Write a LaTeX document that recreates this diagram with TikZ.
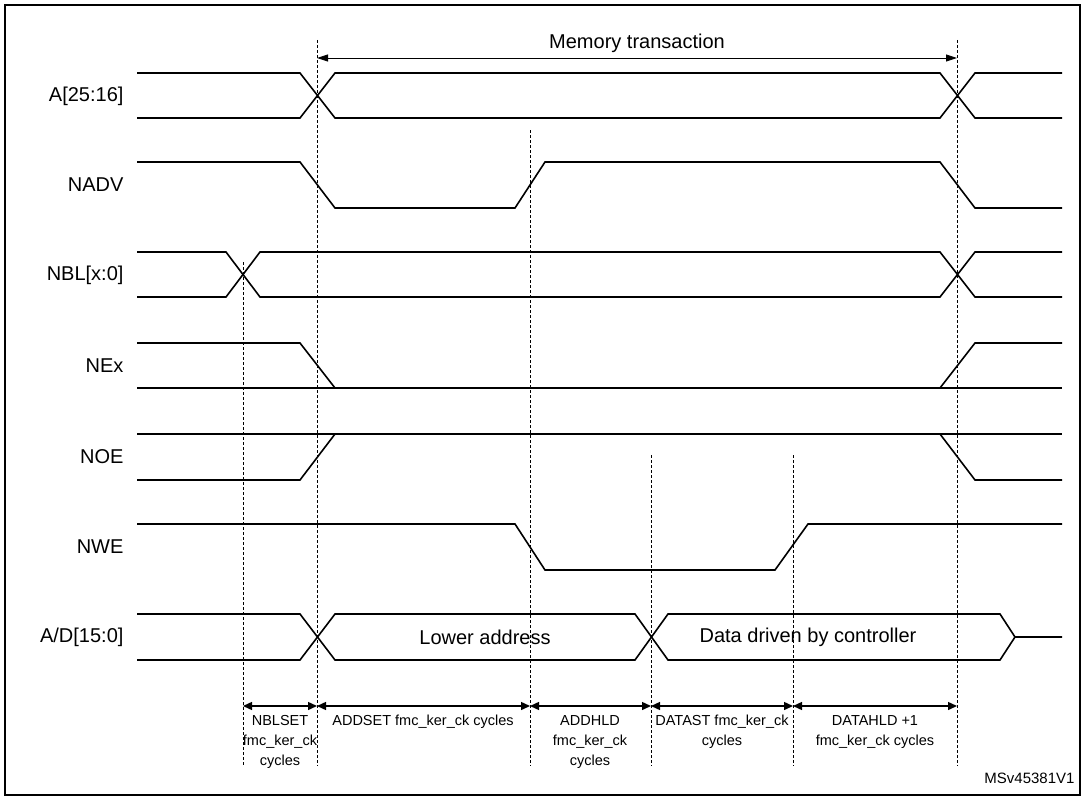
\documentclass[tikz,border=0pt]{standalone}
\usepackage{fontspec}
\setmainfont{Liberation Sans}
\usetikzlibrary{arrows.meta}
\tikzset{
  wave/.style={line width=1.6pt},
  guide/.style={densely dashed,line width=0.7pt},
  span/.style={{Triangle[length=9pt,width=8pt]}-{Triangle[length=9pt,width=8pt]},line width=1.4pt},
  sig/.style={anchor=east,font=\fontsize{20}{22}\selectfont},
  cyc/.style={anchor=north,align=center,inner sep=1pt,font=\fontsize{14.5}{20}\selectfont}
}
\begin{document}
\begin{tikzpicture}[x=1pt,y=-1pt]
    \useasboundingbox (0,0) rectangle (1085,800);
    \draw [line width=1.4pt] (5,5) rectangle (1080,795);
    % timing guides
    \foreach \gx/\gy in {243/262,317/40,530/130,651/455,793/455,957/40} {
    \draw [guide] (\gx,\gy) -- (\gx,766);
    }
    \coordinate (t0) at (243,706);
    \coordinate (t1) at (317,706);
    \coordinate (t2) at (530,706);
    \coordinate (t3) at (651,706);
    \coordinate (t4) at (793,706);
    \coordinate (t5) at (957,706);
    \coordinate (m0) at (317,58);
    \coordinate (m1) at (957,58);
    \draw [{Triangle[length=11pt,width=7pt]}-{Triangle[length=11pt,width=7pt]},line width=0.9pt] (m0) -- (m1) node (mt) [midway,above=2pt,font=\fontsize{20}{22}\selectfont] {Memory transaction};
    % signal names
    \node (la) [sig] at (127,96) {A[25:16]};
    \node (lnadv) [sig] at (127,185) {NADV};
    \node (lnbl) [sig] at (127,275) {NBL[x:0]};
    \node (lne) [sig] at (127,366) {NEx};
    \node (lnoe) [sig] at (127,457) {NOE};
    \node (lnwe) [sig] at (127,547) {NWE};
    \node (lad) [sig] at (127,637) {A/D[15:0]};
    % A[25:16]
    \draw [wave] (137,73) -- (300,73) -- (335,118) -- (940,118) -- (975,73) -- (1062,73);
    \draw [wave] (137,118) -- (300,118) -- (335,73) -- (940,73) -- (975,118) -- (1062,118);
    % NADV
    \draw [wave] (137,162) -- (300,162) -- (335,208) -- (515,208) -- (545,162) -- (940,162) -- (975,208) -- (1062,208);
    % NBL
    \draw [wave] (137,252) -- (226,252) -- (260,297) -- (940,297) -- (975,252) -- (1062,252);
    \draw [wave] (137,297) -- (226,297) -- (260,252) -- (940,252) -- (975,297) -- (1062,297);
    % NEx
    \draw [wave] (137,343) -- (300,343) -- (335,388);
    \draw [wave] (137,388) -- (1062,388);
    \draw [wave] (940,388) -- (975,343) -- (1062,343);
    % NOE
    \draw [wave] (137,434) -- (1062,434);
    \draw [wave] (137,480) -- (300,480) -- (335,434);
    \draw [wave] (940,434) -- (975,480) -- (1062,480);
    % NWE
    \draw [wave] (137,524) -- (515,524) -- (545,570) -- (775,570) -- (808,524) -- (1062,524);
    % A/D[15:0]
    \draw [wave] (137,614) -- (300,614) -- (335,660) -- (635,660) -- (668,614) -- (1000,614) -- (1015,637) -- (1062,637);
    \draw [wave] (137,660) -- (300,660) -- (335,614) -- (635,614) -- (668,660) -- (1000,660) -- (1015,637);
    \node (lo) [font=\fontsize{20}{22}\selectfont] at (485,637) {Lower address};
    \node (dd) [font=\fontsize{20}{22}\selectfont] at (808,637) {Data driven by controller};
    % cycle spans
    \draw [span] (t0) -- (t1);
    \draw [span] (t1) -- (t2);
    \draw [span] (t2) -- (t3);
    \draw [span] (t3) -- (t4);
    \draw [span] (t4) -- (t5);
    \node (c0) [cyc] at (280,714) {NBLSET\\fmc\_ker\_ck\\cycles};
    \node (c1) [cyc] at (423,714) {ADDSET fmc\_ker\_ck cycles};
    \node (c2) [cyc] at (590,714) {ADDHLD\\fmc\_ker\_ck\\cycles};
    \node (c3) [cyc] at (722,714) {DATAST fmc\_ker\_ck\\cycles};
    \node (c4) [cyc] at (875,714) {DATAHLD +1\\fmc\_ker\_ck cycles};
    \node (ref) [anchor=east,font=\fontsize{15}{17}\selectfont] at (1078,778) {MSv45381V1};
\end{tikzpicture}
\end{document}
